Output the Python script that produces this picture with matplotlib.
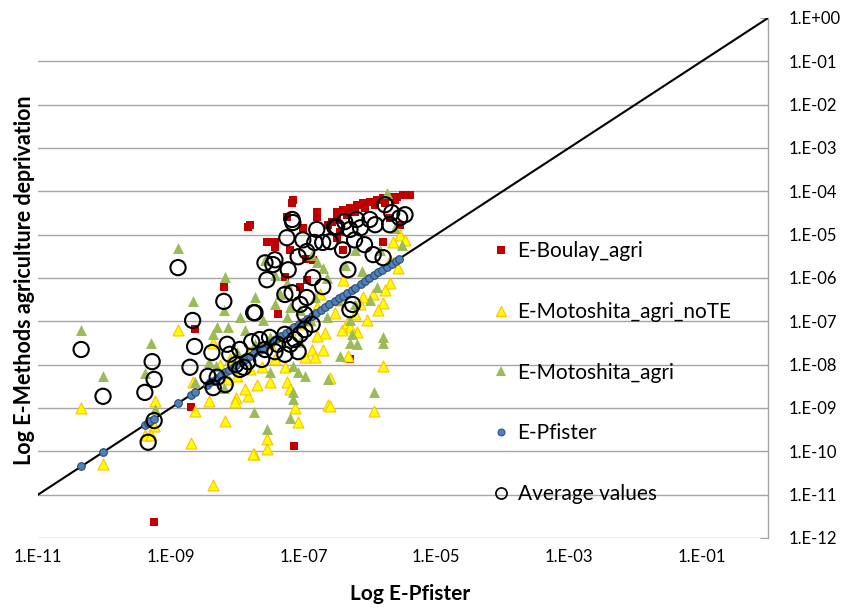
import numpy as np
import matplotlib
matplotlib.use("Agg")
import matplotlib.pyplot as plt
from matplotlib.lines import Line2D

plt.rcParams['font.family'] = ['Lato', 'DejaVu Sans']

# ---- data (log10 values) ----
boulay_lx = [-7.84, -8.20, -8.64, -8.70, -9.25, -7.15, -6.30,
             -7.16, -7.17, -7.25, -6.80, -6.80, -6.57, -6.63, -7.81, -7.01,
             -7.55, -7.43, -7.43, -7.20, -6.86, -7.28, -6.95, -7.05, -7.39,
             -6.50, -6.41, -6.30, -6.20, -6.11, -6.00, -5.89, -5.80, -5.70,
             -5.59, -5.50, -5.40, -6.50, -6.35, -6.23, -6.08, -5.92, -5.77,
             -5.62, -6.41, -5.80, -5.70, -5.55, -6.50, -6.45, -6.96]
boulay_ly = [-4.82, -6.20, -7.17, -8.97, -11.64, -9.88, -7.86,
             -4.19, -4.28, -4.59, -4.47, -4.59, -4.70, -4.77, -4.77, -4.84,
             -5.18, -5.16, -5.28, -5.35, -5.58, -5.97, -6.04, -6.20, -6.84,
             -4.47, -4.42, -4.38, -4.31, -4.26, -4.24, -4.19, -4.15, -4.12,
             -4.12, -4.08, -4.08, -4.65, -4.54, -4.47, -4.38, -4.31, -4.26,
             -4.19, -5.35, -5.16, -4.61, -4.77, -5.07, -4.93, -5.55]

notE_lx = [-10.35, -10.02, -9.24, -9.25, -9.39, -9.29, -8.89, -8.64, -8.70,
           -8.36, -8.42, -8.67, -8.36, -8.18, -8.02, -8.03, -7.84, -7.75,
           -8.00, -8.14, -7.88, -7.70, -7.51, -7.25, -7.20, -7.13, -6.63,
           -7.08, -7.55, -7.55, -7.76, -6.68, -6.80, -6.87, -6.71, -6.83,
           -6.98, -7.28, -7.63, -7.43, -7.81, -7.96, -6.20, -6.42, -6.33,
           -5.80, -6.60, -5.94, -6.60, -5.65, -5.55, -5.70, -5.58, -6.41,
           -6.11, -5.95, -5.80, -6.05, -6.35, -6.30, -6.23, -6.45, -5.70,
           -5.47, -5.77, -6.15, -5.88, -6.53, -6.75, -6.80, -6.90, -7.05,
           -7.20, -7.36, -7.51, -7.66, -7.81, -8.11, -8.26]
notE_ly = [-8.99, -10.30, -8.85, -9.42, -9.63, -9.63, -7.21, -9.08, -9.81,
           -7.49, -8.83, -8.41, -10.78, -9.31, -8.76, -8.87, -8.73, -10.05,
           -8.27, -8.34, -8.57, -8.46, -8.39, -8.41, -8.57, -8.99, -8.92,
           -9.33, -9.72, -9.95, -10.07, -7.26, -7.35, -7.65, -7.65, -7.83,
           -7.83, -8.06, -8.06, -7.88, -8.11, -7.88, -7.24, -7.19, -7.81,
           -8.04, -8.30, -9.08, -8.96, -5.16, -5.00, -6.11, -5.76, -6.04,
           -6.43, -6.38, -6.57, -6.96, -7.03, -7.14, -6.84, -6.50, -5.58,
           -5.12, -6.27, -6.61, -6.73, -6.80, -6.38, -6.66, -6.96, -7.07,
           -7.19, -7.37, -7.53, -7.60, -7.70, -7.88, -8.00]

moto_lx = [-10.35, -10.02, -9.39, -9.29, -9.24, -8.89, -8.67, -8.64, -8.18,
           -8.20, -8.30, -8.14, -8.36, -8.42, -8.32, -8.00, -8.20, -7.75,
           -7.73, -7.58, -7.43, -7.25, -6.80, -6.71, -6.65, -6.83, -7.43,
           -7.20, -6.65, -7.25, -7.61, -7.88, -7.51, -7.05, -7.16, -7.08,
           -6.98, -7.51, -7.16, -7.16, -6.63, -7.20, -7.55, -6.27, -6.30,
           -6.20, -5.80, -5.80, -6.45, -5.94, -5.74, -6.12, -5.52, -5.89,
           -5.62, -5.85, -6.23, -6.38, -6.00, -6.23, -6.48, -6.30, -6.90,
           -7.36, -7.05, -7.96, -7.73, -6.87]
moto_ly = [-7.19, -8.27, -8.20, -7.49, -9.03, -5.30, -6.54, -8.39, -5.97,
           -6.75, -7.12, -7.12, -7.30, -7.95, -8.04, -7.70, -8.53, -9.10,
           -6.43, -5.58, -5.92, -6.11, -5.62, -5.76, -5.99, -6.43, -6.61,
           -6.66, -6.89, -6.89, -6.96, -7.19, -7.37, -7.47, -8.04, -8.18,
           -8.27, -8.18, -8.62, -8.80, -8.34, -9.22, -9.49, -7.30, -7.49,
           -7.53, -7.37, -7.49, -7.81, -8.64, -4.03, -5.85, -5.23, -6.20,
           -4.84, -5.35, -5.35, -5.69, -6.50, -6.61, -6.50, -6.96, -6.96,
           -6.38, -6.73, -6.89, -7.53, -5.46]

pfister_lx = [-10.35, -10.02, -9.39, -9.34, -9.31, -9.25, -8.89, -8.70, -8.64,
              -8.46, -8.41, -8.37, -8.31, -8.24, -8.18, -8.12, -8.05, -8.01,
              -7.93, -7.86, -7.81, -7.74, -7.66, -7.61, -7.53, -7.47, -7.41,
              -7.34, -7.27, -7.21, -7.14, -7.06, -7.01, -6.94, -6.87, -6.81,
              -6.74, -6.67, -6.61, -6.53, -6.47, -6.41, -6.34, -6.27, -6.22,
              -6.14, -6.07, -6.01, -5.94, -5.87, -5.82, -5.74, -5.67, -5.61,
              -5.56]
pfister_ly = pfister_lx

avg_lx = [-10.35, -10.02, -9.39, -9.28, -9.25, -9.25, -9.34, -8.89, -8.67,
          -8.64, -8.71, -8.20, -8.15, -8.38, -8.44, -8.30, -8.36, -8.18,
          -7.75, -8.02, -7.96, -7.84,
          -7.17, -7.16, -6.80, -6.53, -7.25, -7.01, -6.83, -6.71, -6.60,
          -6.95, -7.08, -7.58, -7.43, -7.46, -7.23, -7.55, -6.86, -6.71,
          -7.28, -7.17, -6.95, -7.05, -7.73,
          -5.77, -5.67, -5.55, -6.50, -6.20, -6.00, -6.38, -6.30, -6.14,
          -5.92, -6.23, -6.41, -6.08, -5.95, -5.80, -6.33, -6.26, -6.30,
          -5.70, -5.47,
          -7.78, -7.66, -7.58, -7.51, -7.39, -7.28, -7.20, -7.13, -7.05,
          -6.98, -7.63, -7.43, -7.28, -7.08, -6.98, -6.87, -7.96, -8.11,
          -7.90]
avg_ly = [-7.65, -8.73, -8.64, -7.93, -8.34, -9.29, -9.79, -5.76, -6.98,
          -7.58, -8.06, -6.54, -7.53, -7.72, -8.27, -8.29, -8.53, -8.46,
          -6.80, -8.00, -8.11, -7.93,
          -4.65, -4.72, -4.88, -4.82, -5.07, -5.12, -5.18, -5.18, -5.16,
          -5.39, -5.51, -5.65, -5.58, -5.69, -5.81, -6.04, -5.99, -6.20,
          -6.38, -6.34, -6.45, -6.61, -6.80,
          -4.31, -4.49, -4.61, -4.82, -4.65, -4.65, -4.70, -4.88, -4.84,
          -4.77, -5.12, -5.35, -5.23, -5.46, -5.53, -5.81, -6.61, -6.73,
          -4.77, -4.54,
          -7.47, -7.42, -7.65, -7.37, -7.53, -7.30, -7.53, -7.42, -7.30,
          -7.19, -7.88, -7.70, -7.76, -7.70, -6.84, -7.07, -7.65, -7.76,
          -8.06]

diag = [1e-11, 1e0]

x_ticks = [1e-11, 1e-9, 1e-7, 1e-5, 1e-3, 1e-1]
x_labels = ["1.E-11", "1.E-09", "1.E-07", "1.E-05", "1.E-03", "1.E-01"]
y_ticks = [10.0 ** -k for k in range(0, 13)]
y_labels = ["1.E+00"] + ["1.E-%02d" % k for k in range(1, 13)]

labels = ["E-Boulay_agri", "E-Motoshita_agri_noTE", "E-Motoshita_agri",
          "E-Pfister", "Average values"]

# ---- figure ----
fig = plt.figure(figsize=(8.56, 6.09), dpi=100)
ax = fig.add_axes([38 / 856, 1 - 538 / 609, 730 / 856, 520 / 609])
ax.set_xscale('log')
ax.set_yscale('log')
ax.set_xlim(1e-11, 1)
ax.set_ylim(1e-12, 1)

def p(v):
    return np.power(10.0, np.asarray(v))

ax.plot(diag, diag, color='black', lw=1.5, zorder=3)
ax.scatter(p(boulay_lx), p(boulay_ly), marker='s', s=38, color='#C00000',
           linewidths=0, zorder=4)
ax.scatter(p(notE_lx), p(notE_ly), marker='^', s=62, facecolor='#FFFF00',
           edgecolor='#FFC000', linewidths=0.8, zorder=5)
ax.scatter(p(moto_lx), p(moto_ly), marker='^', s=62, color='#9BBB59',
           linewidths=0, zorder=6)
ax.scatter(p(pfister_lx), p(pfister_ly), marker='o', s=30, facecolor='#4F81BD',
           edgecolor='#2A4A70', linewidths=0.8, zorder=7)
ax.scatter(p(avg_lx), p(avg_ly), marker='o', s=120, facecolor='none',
           edgecolor='black', linewidths=1.5, zorder=8)

# grid / spines
for k in range(1, 13):
    ax.axhline(y_ticks[k], color='#A6A6A6', lw=1.0, zorder=1)
for s in ['left', 'top', 'bottom']:
    ax.spines[s].set_visible(False)
ax.spines['right'].set_color('#A6A6A6')
ax.spines['right'].set_linewidth(1.0)

ax.yaxis.tick_right()
ax.set_yticks(y_ticks)
ax.set_yticklabels(y_labels)
ax.yaxis.set_minor_locator(matplotlib.ticker.NullLocator())
ax.xaxis.set_minor_locator(matplotlib.ticker.NullLocator())
ax.tick_params(axis='y', which='major', direction='in', length=6,
               color='#A6A6A6', labelsize=12, pad=15)
ax.set_xticks(x_ticks)
ax.set_xticklabels(x_labels)
ax.tick_params(axis='x', which='major', length=0, labelsize=12, pad=8)

ax.set_xlabel("Log E-Pfister", fontsize=15, fontweight='bold')
ax.xaxis.label.set_verticalalignment('center')
ax.xaxis.set_label_coords((410 - 38) / 730, -(594 - 538) / 520)
fig.text(25 / 856, 1 - 280 / 609, "Log E-Methods agriculture deprivation",
         rotation=90, fontsize=15.5, fontweight='bold', ha='center', va='center')

handles = [
    Line2D([], [], ls='none', marker='s', markersize=6, color='#C00000', markeredgewidth=0),
    Line2D([], [], ls='none', marker='^', markersize=7, markerfacecolor='#FFFF00',
           markeredgecolor='#FFC000', markeredgewidth=0.8),
    Line2D([], [], ls='none', marker='^', markersize=7, color='#9BBB59', markeredgewidth=0),
    Line2D([], [], ls='none', marker='o', markersize=5, markerfacecolor='#4F81BD',
           markeredgecolor='#2A4A70', markeredgewidth=0.7),
    Line2D([], [], ls='none', marker='o', markersize=8, markerfacecolor='none',
           markeredgecolor='black', markeredgewidth=1.2),
]
leg = ax.legend(handles, labels, loc='upper left',
                bbox_to_anchor=(480 / 856, 1 - 231 / 609),
                bbox_transform=fig.transFigure, frameon=False,
                fontsize=15, labelspacing=1.95, handlelength=1.0,
                handletextpad=0.3, borderpad=0)

fig.savefig("out.png", dpi=100)
